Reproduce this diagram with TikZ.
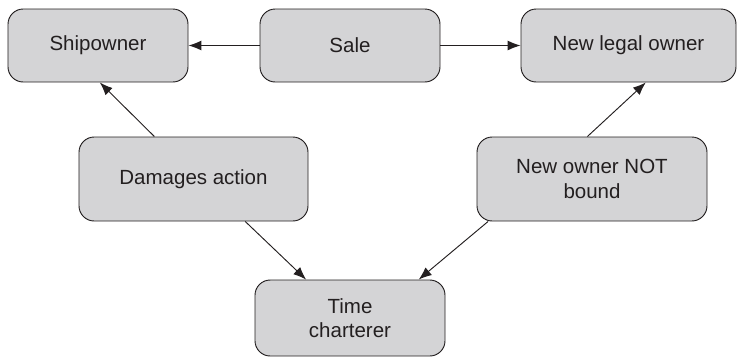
\documentclass[tikz,border=0pt]{standalone}
\usepackage{fontspec}
\setmainfont{Liberation Sans}
\usetikzlibrary{positioning,arrows.meta,calc}
\definecolor{boxgray}{RGB}{212,212,214}
\definecolor{inkdark}{RGB}{35,31,32}
\tikzset{
	party/.style={draw=inkdark,fill=boxgray,rounded corners=13pt,thick,align=center,
		text=inkdark,font=\fontsize{17.5}{21}\selectfont,inner sep=2pt},
	link/.style={->,thick,draw=inkdark}
}

\begin{document}
\begin{tikzpicture}[>={Latex[length=11pt,width=8.5pt]},x=0.03cm,y=-0.03cm]
	\useasboundingbox (0,0) rectangle (737,358);

	% top row
	\node[party,minimum width=5.4cm,minimum height=2.19cm] (shipowner) at (98,45.5) {Shipowner};
	\node[party,minimum width=5.4cm,minimum height=2.19cm] (sale) at (350,45.5) {Sale};
	\node[party,minimum width=6.45cm,minimum height=2.19cm] (legalowner) at (628.5,45.5) {New legal owner};

	% middle row
	\node[party,minimum width=6.87cm,minimum height=2.52cm] (damages) at (193.5,179) {Damages action};
	\node[party,minimum width=6.9cm,minimum height=2.52cm] (notbound) at (592,179) {New owner NOT\\bound};

	% bottom
	\node[party,minimum width=5.7cm,minimum height=2.28cm] (charterer) at (350,318) {Time\\charterer};

	\draw[link] (sale) -- (shipowner);
	\draw[link] (sale) -- (legalowner);
	\draw[link] ($(damages.north west)!0.33!(damages.north east)$) -- ($(shipowner.south west)!0.51!(shipowner.south east)$);
	\draw[link] ($(damages.south west)!0.725!(damages.south east)$) -- ($(charterer.north west)!0.27!(charterer.north east)$);
	\draw[link] ($(notbound.north west)!0.48!(notbound.north east)$) -- ($(legalowner.south west)!0.58!(legalowner.south east)$);
	\draw[link] ($(notbound.south west)!0.05!(notbound.south east)$) -- ($(charterer.north west)!0.86!(charterer.north east)$);
\end{tikzpicture}
\end{document}
